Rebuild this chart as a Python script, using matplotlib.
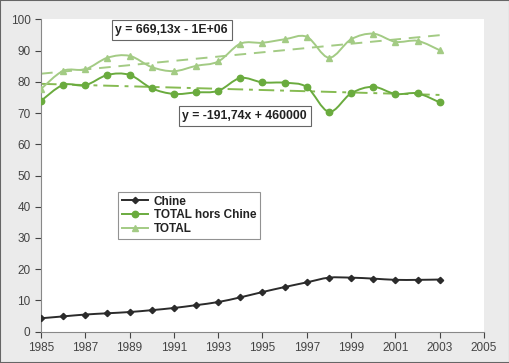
import numpy
from matplotlib import pyplot
from matplotlib import patches
from matplotlib.path import Path

years = list(range(1985, 2004))
chine = [4.3, 4.9, 5.5, 5.9, 6.3, 6.9, 7.6, 8.5, 9.5, 11.0, 12.7, 14.3, 15.8,
         17.3, 17.3, 17.0, 16.6, 16.6, 16.7]
hors_chine = [73.9, 79.0, 78.9, 82.2, 82.2, 77.9, 76.1, 76.6, 77.1, 81.2, 79.8,
              79.7, 78.3, 70.4, 76.3, 78.4, 76.1, 76.3, 73.4]
total = [77.7, 83.5, 84.0, 87.7, 88.3, 84.7, 83.4, 85.1, 86.5, 92.2, 92.5, 93.6,
         94.4, 87.7, 93.6, 95.4, 92.8, 93.1, 90.1]
series_labels = ['Chine', 'TOTAL hors Chine', 'TOTAL']
trend_total_label = 'y = 669,13x - 1E+06'
trend_hors_label = 'y = -191,74x + 460000'
x_ticks = list(range(1985, 2006, 2))
y_ticks = list(range(0, 101, 10))

pyplot.rcParams['font.family'] = ['Liberation Sans', 'DejaVu Sans']


def smooth_path(xs, ys):
    # Excel-like smoothed line: Catmull-Rom converted to cubic Bezier segments
    pts = numpy.column_stack([xs, ys]).astype(float)
    n = len(pts)
    verts = [pts[0]]
    codes = [Path.MOVETO]
    for i in range(n - 1):
        p0 = pts[i - 1] if i > 0 else pts[i]
        p1 = pts[i]
        p2 = pts[i + 1]
        p3 = pts[i + 2] if i + 2 < n else pts[i + 1]
        c1 = p1 + (p2 - p0) / 6.0
        c2 = p2 - (p3 - p1) / 6.0
        verts += [c1, c2, p2]
        codes += [Path.CURVE4] * 3
    return Path(verts, codes)


def draw_series(ax, ys, color, marker, ms, lw, label):
    ax.add_patch(patches.PathPatch(smooth_path(years, ys), fill=False,
                                   edgecolor=color, lw=lw, zorder=3))
    ax.plot(years, ys, linestyle='none', marker=marker, ms=ms, color=color,
            mec=color, zorder=4)
    return ax.plot([], [], color=color, lw=lw, marker=marker, ms=ms,
                   label=label)[0]


fig = pyplot.figure(figsize=(5.1, 3.63), dpi=100, facecolor='#ebebeb')
ax = fig.add_axes([0.0804, 0.0862, 0.8686, 0.8606])
ax.set_facecolor('white')

h1 = draw_series(ax, chine, '#2b2b2b', 'D', 3.2, 1.4, series_labels[0])
h2 = draw_series(ax, hors_chine, '#6aab3e', 'o', 4.6, 1.4, series_labels[1])
h3 = draw_series(ax, total, '#a3cb84', '^', 4.6, 1.4, series_labels[2])

# linear trendlines
yr = numpy.array(years, dtype=float)
a, b = numpy.polyfit(yr, total, 1)
ax.plot(yr[[0, -1]], a * yr[[0, -1]] + b, color='#a3cb84', lw=1.4,
        linestyle=(0, (6, 4)), zorder=2)
a2, b2 = numpy.polyfit(yr, hors_chine, 1)
ax.plot(yr[[0, -1]], a2 * yr[[0, -1]] + b2, color='#86bb52', lw=1.4,
        linestyle=(0, (8, 3, 2, 3)), zorder=2)

box = dict(boxstyle='square,pad=0.3', fc='white', ec='#666666', lw=0.8)
ax.text(1990.9, 96.6, trend_total_label, ha='center', va='center',
        fontsize=8.8, fontweight='bold', color='#222222', bbox=box, zorder=5)
ax.text(1994.2, 69.0, trend_hors_label, ha='center', va='center',
        fontsize=8.8, fontweight='bold', color='#222222', bbox=box, zorder=5)

leg = ax.legend(handles=[h1, h2, h3], loc='upper left',
                bbox_to_anchor=(0.174, 0.447), frameon=True, fancybox=False,
                prop={'size': 8.5, 'weight': 'bold'}, handlelength=2.2,
                borderpad=0.3, labelspacing=0.15, handletextpad=0.5,
                borderaxespad=0)
leg.get_frame().set_edgecolor('#777777')
leg.get_frame().set_linewidth(0.8)
for t in leg.get_texts():
    t.set_color('#222222')

ax.set_xlim(1985, 2005)
ax.set_ylim(0, 100)
ax.set_xticks(x_ticks)
ax.set_yticks(y_ticks)
ax.tick_params(labelsize=8.5, colors='#444444', length=4, width=0.8,
               direction='out')
for side in ('top', 'right'):
    ax.spines[side].set_visible(False)
for side in ('left', 'bottom'):
    ax.spines[side].set_color('#888888')
    ax.spines[side].set_linewidth(0.8)

fig.patches.append(patches.Rectangle((0, 0), 1, 1, transform=fig.transFigure,
                                     fill=False, ec='#666666', lw=1.5))

pyplot.savefig('out.png', dpi=100, facecolor=fig.get_facecolor())
